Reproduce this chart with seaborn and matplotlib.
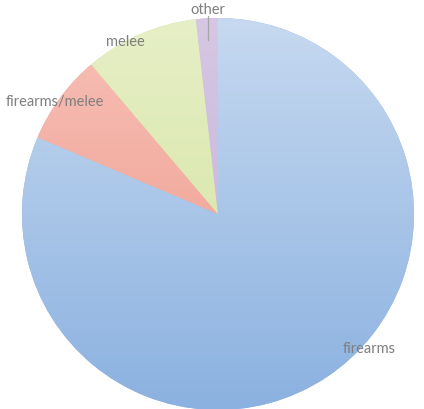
import numpy as np
import matplotlib
matplotlib.use("Agg")
import matplotlib.pyplot as plt
from matplotlib.colors import LinearSegmentedColormap
import seaborn as sns

sns.set_theme(style="white")
plt.rcParams['font.family'] = ['Lato', 'DejaVu Sans']

# slice data (percent)
categories = ["firearms", "firearms/melee", "melee", "other"]
shares = [81.4, 7.4, 9.4, 1.8]
# light (top) / dark (bottom) shades of each slice
top_colors = ["#c6d9f0", "#f8c0b8", "#e6efc6", "#d6c7e4"]
bottom_colors = ["#8bb1e0", "#ec9684", "#d2e29c", "#c2aed6"]
# label placement: (angle in degrees, distance in radii)
label_pos = [(-41.4, 1.03), (145.3, 1.01), (118.3, 1.0), (92.8, 1.045)]

fig = plt.figure(figsize=(4.24, 4.10), dpi=100)
ax = fig.add_axes([0, 0, 1, 1])

R = 196.0
cx, cy = 218.0, 215.0
W, H = 424.0, 410.0

wedges, _ = ax.pie(shares, startangle=90, counterclock=False, radius=1,
                   colors=sns.color_palette(bottom_colors),
                   wedgeprops=dict(linewidth=0))

# vertical gradient in each wedge
grad = np.linspace(0, 1, 256).reshape(-1, 1)
for w, c_top, c_bot in zip(wedges, top_colors, bottom_colors):
    cmap = LinearSegmentedColormap.from_list("g", [c_bot, c_top])
    im = ax.imshow(grad, cmap=cmap, extent=[-1, 1, -1, 1], origin="lower",
                   aspect="auto", zorder=w.get_zorder() + 0.1)
    im.set_clip_path(w)

for name, (ang, dist) in zip(categories, label_pos):
    a = np.deg2rad(ang)
    ax.text(dist * np.cos(a), dist * np.sin(a), name, ha="center", va="center",
            fontsize=10.5, color="#7f7f7f", zorder=10)

# leader line for the tiny "other" slice
ax.plot([-10 / R, -10 / R], [1.01, 1.01 - 24 / R], color="#a6a6a6", lw=0.9, zorder=9)

ax.set_xlim(-cx / R, (W - cx) / R)
ax.set_ylim(-(H - cy) / R, cy / R)
ax.set_aspect("auto")
ax.axis("off")

fig.savefig("out.png", dpi=100)
